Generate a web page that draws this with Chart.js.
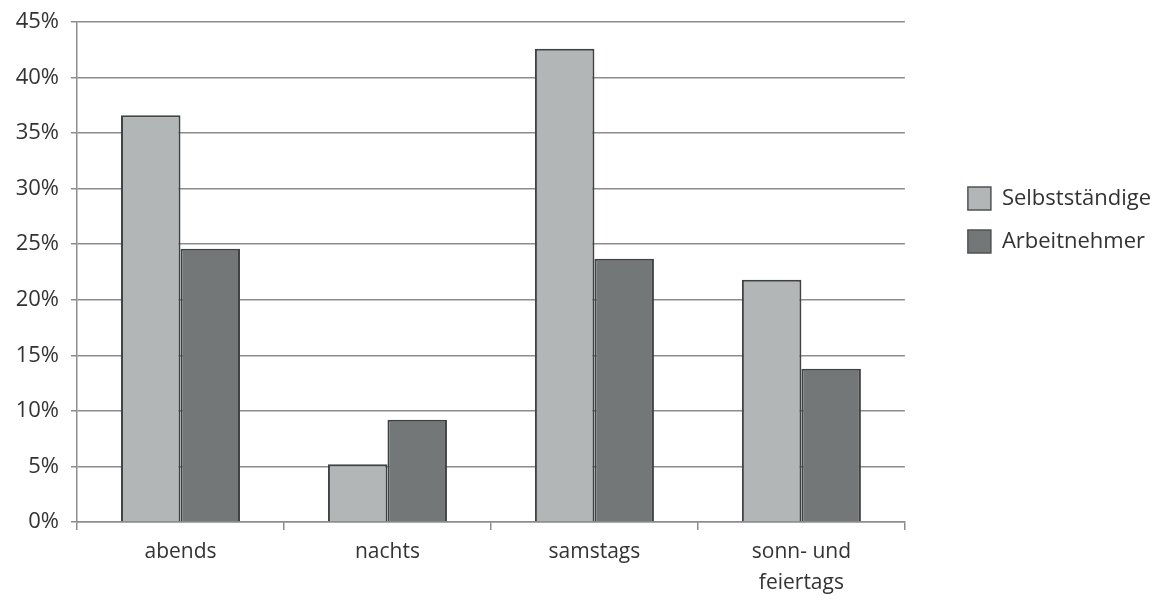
<!DOCTYPE html>
<html>
<head>
<meta charset="utf-8">
<script src="https://cdn.jsdelivr.net/npm/chart.js@4/dist/chart.umd.min.js"></script>
<style>
  html, body { margin: 0; padding: 0; background: #fff; overflow: hidden; }
  canvas { display: block; }
</style>
</head>
<body>
<canvas id="myChart" width="1167" height="601"></canvas>
<script>
// data (percent)
var categories = ['abends', 'nachts', 'samstags', ['sonn- und', 'feiertags']];
var seriesNames = ['Selbstständige', 'Arbeitnehmer'];
var selbststaendige = [36.6, 5.2, 42.6, 21.8];
var arbeitnehmer = [24.6, 9.2, 23.7, 13.8];
var yTicks = [0, 5, 10, 15, 20, 25, 30, 35, 40, 45];

var gridColor = '#8c8c8c';
var textColor = '#333333';
var barEdge = '#3f4242';

var ctx = document.getElementById('myChart').getContext('2d');
var myChart = new Chart(ctx, {
	type: 'bar',
	data: {
		labels: categories,
		datasets: [{
			label: seriesNames[0],
			data: selbststaendige,
			backgroundColor: '#b3b6b6',
			borderColor: barEdge,
			borderWidth: 2
		}, {
			label: seriesNames[1],
			data: arbeitnehmer,
			backgroundColor: '#747777',
			borderColor: barEdge,
			borderWidth: 2
		}]
	},
	options: {
		responsive: false,
		animation: false,
		categoryPercentage: 0.575,
		barPercentage: 1,
		layout: {
			padding: { top: 0, left: 0, right: 6, bottom: 4 }
		},
		plugins: {
			tooltip: { enabled: false },
			legend: {
				position: 'right',
				align: 'start',
				maxWidth: 400,
				// empty title only pushes the entries down
				title: {
					display: true,
					text: '',
					font: { size: 1, lineHeight: 1 },
					padding: { top: 166, bottom: 0 }
				},
				labels: {
					boxWidth: 23,
					boxHeight: 23,
					padding: 20,
					color: textColor,
					font: { family: 'Open Sans', size: 22 },
					generateLabels: function(chart) {
						return chart.data.datasets.map(function(ds, i) {
							return {
								text: ds.label,
								fillStyle: ds.backgroundColor,
								strokeStyle: '#505353',
								lineWidth: 1.5,
								fontColor: textColor,
								datasetIndex: i
							};
						});
					}
				}
			}
		},
		scales: {
			x: {
				afterFit: function(scale) { scale.height = 75; },
				grid: {
					drawOnChartArea: false,
					drawTicks: true,
					tickLength: 8,
					color: gridColor,
					lineWidth: 1.5
				},
				border: { display: true, color: gridColor, width: 1.5 },
				ticks: {
					color: textColor,
					padding: 7,
					font: { family: 'Open Sans', size: 21, lineHeight: 1.45 }
				}
			},
			y: {
				min: 0,
				max: 45,
				afterBuildTicks: function(scale) {
					scale.ticks = yTicks.map(function(v) { return { value: v }; });
				},
				afterFit: function(scale) {
					scale.width = 77;
					scale.paddingTop = 22;
					scale.paddingBottom = 0;
				},
				grid: {
					color: gridColor,
					lineWidth: 1.5,
					tickLength: 6
				},
				border: { display: true, color: gridColor, width: 1.5 },
				ticks: {
					color: textColor,
					padding: 12,
					font: { family: 'Open Sans', size: 22 },
					callback: function(v) { return v + '%'; }
				}
			},
			// spacer between plot and legend
			gap: {
				type: 'linear',
				position: 'right',
				display: true,
				grid: { display: false },
				border: { display: false },
				ticks: { display: false },
				afterFit: function(scale) { scale.width = 43; }
			}
		}
	}
});
</script>
</body>
</html>
